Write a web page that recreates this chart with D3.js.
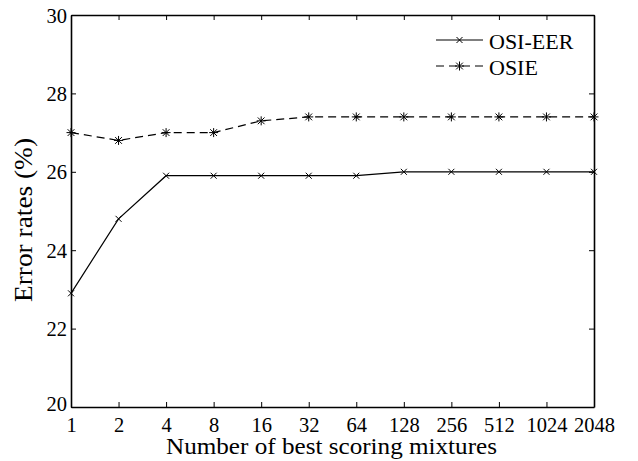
<!DOCTYPE html>
<html>
<head>
<meta charset="utf-8">
<script src="https://cdn.jsdelivr.net/npm/d3@7"></script>
<style>
  body { margin: 0; background: #fff; }
  text { font-family: "Liberation Serif", "Times New Roman", serif; }
</style>
</head>
<body>
<div id="chart"></div>
<script>

// chart data
var mixtures = ["1", "2", "4", "8", "16", "32", "64", "128", "256", "512", "1024", "2048"];
var osiEer = [22.9, 24.8, 25.9, 25.9, 25.9, 25.9, 25.9, 26.0, 26.0, 26.0, 26.0, 26.0];
var osie = [27.0, 26.8, 27.0, 27.0, 27.3, 27.4, 27.4, 27.4, 27.4, 27.4, 27.4, 27.4];
var yTicks = [20, 22, 24, 26, 28, 30];

var margin = {top: 15, right: 44, bottom: 54, left: 71},
    width = 638 - margin.left - margin.right,
    height = 461 - margin.top - margin.bottom;

var svg = d3.select("#chart")
    .append("svg")
    .attr("width", 638)
    .attr("height", 461)
    .append("g")
    .attr("transform", "translate(" + margin.left + "," + margin.top + ")");

var x = d3.scalePoint()
    .domain(mixtures)
    .range([0, width]);

var y = d3.scaleLinear()
    .domain([20, 30])
    .range([height, 0]);

// axes with inward ticks, mirrored on top and right
var xAxis = svg.append("g")
    .attr("transform", "translate(0," + height + ")")
    .call(d3.axisBottom(x).tickSizeInner(-5).tickSizeOuter(0).tickPadding(10));
var xTop = svg.append("g")
    .call(d3.axisTop(x).tickSizeInner(-5).tickSizeOuter(0).tickFormat(""));
var yAxis = svg.append("g")
    .call(d3.axisLeft(y).tickValues(yTicks).tickSizeInner(-5).tickSizeOuter(0).tickPadding(4));
var yRight = svg.append("g")
    .attr("transform", "translate(" + width + ",0)")
    .call(d3.axisRight(y).tickValues(yTicks).tickSizeInner(-5).tickSizeOuter(0).tickFormat(""));

[xAxis, xTop, yAxis, yRight].forEach(function(g) {
    g.selectAll("path").attr("stroke", "#000").attr("stroke-width", 1.6);
    g.selectAll("line").attr("stroke", "#000").attr("stroke-width", 1);
    g.selectAll("text")
        .attr("fill", "#000")
        .style("font-family", "Liberation Serif, serif")
        .style("font-size", "20.5px");
});
yAxis.selectAll("text").attr("dy", "0.35em");
// the bottom y tick label sits a bit lower in the reference
yAxis.selectAll(".tick text").filter(function(d) { return d === 20; }).attr("dy", "0.15em");

// lines
var line = d3.line()
    .x(function(d, i) { return x(mixtures[i]); })
    .y(function(d) { return y(d); });

svg.append("path")
    .datum(osiEer)
    .attr("fill", "none")
    .attr("stroke", "#000")
    .attr("stroke-width", 1.2)
    .attr("d", line);

svg.append("path")
    .datum(osie)
    .attr("fill", "none")
    .attr("stroke", "#000")
    .attr("stroke-width", 1.2)
    .attr("stroke-dasharray", "8,5")
    .attr("d", line);

// marker helpers
function crossPath(s) {
    return "M" + (-s) + "," + (-s) + "L" + s + "," + s + "M" + (-s) + "," + s + "L" + s + "," + (-s);
}
function starPath(s) {
    return crossPath(s * 0.75) + "M0," + (-s) + "L0," + s + "M" + (-s) + ",0L" + s + ",0";
}

svg.selectAll(".m1")
    .data(osiEer)
    .enter().append("path")
    .attr("class", "m1")
    .attr("transform", function(d, i) { return "translate(" + x(mixtures[i]) + "," + y(d) + ")"; })
    .attr("d", crossPath(3))
    .attr("stroke", "#000")
    .attr("stroke-width", 1);

svg.selectAll(".m2")
    .data(osie)
    .enter().append("path")
    .attr("class", "m2")
    .attr("transform", function(d, i) { return "translate(" + x(mixtures[i]) + "," + y(d) + ")"; })
    .attr("d", starPath(4.5))
    .attr("stroke", "#000")
    .attr("stroke-width", 1);

// legend
var legend = svg.append("g").attr("transform", "translate(" + (width - 158) + ",25)");
legend.append("line").attr("x1", 0).attr("x2", 47).attr("y1", 0).attr("y2", 0)
    .attr("stroke", "#000").attr("stroke-width", 1.2);
legend.append("path").attr("transform", "translate(23.5,0)").attr("d", crossPath(3))
    .attr("stroke", "#000");
legend.append("text").attr("x", 53).attr("y", 0).attr("dy", "0.4em")
    .style("font-size", "22px").text("OSI-EER");

legend.append("line").attr("x1", 0).attr("x2", 47).attr("y1", 26).attr("y2", 26)
    .attr("stroke", "#000").attr("stroke-width", 1.2).attr("stroke-dasharray", "8,5");
legend.append("path").attr("transform", "translate(23.5,26)").attr("d", starPath(4.5))
    .attr("stroke", "#000");
legend.append("text").attr("x", 53).attr("y", 26).attr("dy", "0.4em")
    .style("font-size", "22px").text("OSIE");

// axis titles
svg.append("text")
    .attr("x", width / 2 - 1)
    .attr("y", height + 47)
    .attr("text-anchor", "middle")
    .attr("textLength", 331)
    .attr("lengthAdjust", "spacingAndGlyphs")
    .style("font-size", "23px")
    .text("Number of best scoring mixtures");

svg.append("text")
    .attr("transform", "translate(-39," + (height / 2 + 9) + ") rotate(-90)")
    .attr("text-anchor", "middle")
    .attr("textLength", 164)
    .attr("lengthAdjust", "spacingAndGlyphs")
    .style("font-size", "25px")
    .text("Error rates (%)");

</script>
</body>
</html>
